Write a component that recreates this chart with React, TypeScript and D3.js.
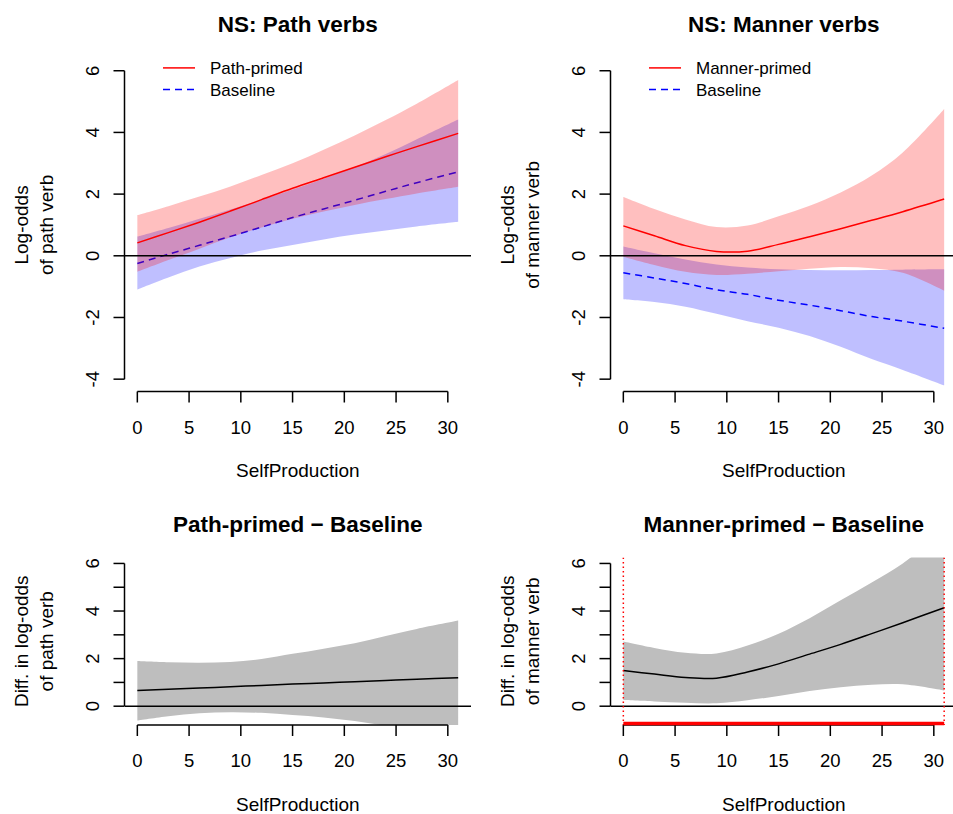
import React from "react";
import * as d3 from "d3";

// ---------- data ----------
const xs = [0, 3, 6, 9, 12, 15, 18, 21, 24, 27, 31];
const xTicks = [0, 5, 10, 15, 20, 25, 30];
const topYTicks = [-4, -2, 0, 2, 4, 6];
const bottomYTicks = [0, 1, 2, 3, 4, 5, 6];
const bottomYLabels = [0, 2, 4, 6];

// NS: Path verbs
const pathPrimedFit = [0.42, 0.75, 1.09, 1.45, 1.82, 2.19, 2.53, 2.87, 3.21, 3.54, 3.97];
const pathPrimedUpper = [1.32, 1.61, 1.92, 2.25, 2.62, 3.0, 3.44, 3.9, 4.4, 4.93, 5.7];
const pathPrimedLower = [-0.52, -0.14, 0.23, 0.6, 0.92, 1.2, 1.44, 1.65, 1.84, 2.02, 2.24];
const pathBaseFit = [-0.25, 0.05, 0.34, 0.63, 0.93, 1.24, 1.52, 1.8, 2.09, 2.37, 2.72];
const pathBaseUpper = [0.62, 0.9, 1.2, 1.5, 1.82, 2.15, 2.5, 2.88, 3.3, 3.78, 4.42];
const pathBaseLower = [-1.09, -0.7, -0.35, -0.07, 0.17, 0.35, 0.53, 0.69, 0.82, 0.95, 1.1];

// NS: Manner verbs
const mannerPrimedFit = [0.97, 0.65, 0.33, 0.14, 0.15, 0.37, 0.62, 0.88, 1.15, 1.43, 1.84];
const mannerPrimedUpper = [1.91, 1.52, 1.18, 0.93, 0.98, 1.28, 1.62, 2.05, 2.6, 3.35, 4.76];
const mannerPrimedLower = [-0.03, -0.3, -0.52, -0.62, -0.58, -0.5, -0.42, -0.36, -0.4, -0.55, -1.13];
const mannerBaseFit = [-0.55, -0.72, -0.9, -1.1, -1.25, -1.44, -1.6, -1.78, -1.97, -2.12, -2.35];
const mannerBaseUpper = [0.3, 0.08, -0.12, -0.28, -0.38, -0.44, -0.46, -0.47, -0.46, -0.45, -0.44];
const mannerBaseLower = [-1.41, -1.5, -1.65, -1.88, -2.12, -2.33, -2.6, -2.95, -3.35, -3.7, -4.2];

// Path-primed − Baseline
const pathDiffFit = [0.66, 0.71, 0.76, 0.82, 0.87, 0.93, 0.98, 1.03, 1.08, 1.13, 1.2];
const pathDiffUpper = [1.9, 1.85, 1.83, 1.86, 1.98, 2.2, 2.42, 2.65, 2.95, 3.25, 3.6];
const pathDiffLower = [-0.6, -0.42, -0.3, -0.25, -0.28, -0.37, -0.47, -0.62, -0.82, -1.0, -1.2];

// Manner-primed − Baseline
const mannerDiffFit = [1.5, 1.35, 1.21, 1.18, 1.44, 1.78, 2.19, 2.6, 3.05, 3.51, 4.14];
const mannerDiffUpper = [2.72, 2.45, 2.25, 2.22, 2.55, 3.05, 3.7, 4.45, 5.2, 6.0, 7.4];
const mannerDiffLower = [0.26, 0.2, 0.14, 0.12, 0.25, 0.43, 0.64, 0.8, 0.9, 0.92, 0.66];
const mannerSigStart = [0];
const mannerSigEnd = [31];

// ---------- layout ----------
const W = 953;
const H = 814;
const FONT = "'Liberation Sans', Arial, Helvetica, sans-serif";
const colLeft = [124.5, 610.5];
const colWidth = 346.5;
const xDomain: [number, number] = [-1.24, 32.24];
const topRow = { top: 58.4, bottom: 391.5, domain: [-4.4, 6.4] as [number, number] };
const botRow = { top: 557.5, bottom: 725, domain: [-0.79, 6.25] as [number, number] };

type Band = { fit: number[]; upper: number[]; lower: number[]; color: string; fill: string; dash?: string };

function Panel(props: {
  id: string;
  col: number;
  row: typeof topRow;
  title: string;
  ylab: [string, string];
  yTicks: number[];
  yLabels: number[];
  bands?: Band[];
  legend?: [string, string];
  diff?: { fit: number[]; upper: number[]; lower: number[] };
  sig?: { start: number[]; end: number[] };
}) {
  const { id, col, row, title, ylab, yTicks, yLabels, bands, legend, diff, sig } = props;
  const L = colLeft[col];
  const R = L + colWidth;
  const x = d3.scaleLinear().domain(xDomain).range([L, R]);
  const y = d3.scaleLinear().domain(row.domain).range([row.bottom, row.top]);
  const cx = (L + R) / 2;
  const cy = (row.top + row.bottom) / 2;
  const idx = xs.map((_, i) => i);
  const curve = d3.curveCatmullRom.alpha(0.5);
  const area = (u: number[], l: number[]) =>
    d3
      .area<number>()
      .x((i) => x(xs[i]))
      .y0((i) => y(l[i]))
      .y1((i) => y(u[i]))
      .curve(curve)(idx) || "";
  const line = (f: number[]) =>
    d3
      .line<number>()
      .x((i) => x(xs[i]))
      .y((i) => y(f[i]))
      .curve(curve)(idx) || "";
  const yMin = d3.min(yTicks)!;
  const yMax = d3.max(yTicks)!;
  const tick = 11;
  return (
    <g>
      <defs>
        <clipPath id={id}>
          <rect x={L} y={row.top} width={colWidth} height={row.bottom - row.top} />
        </clipPath>
      </defs>
      <text x={cx} y={row.top - 33.5} textAnchor="middle" dominantBaseline="central" fontWeight="bold" fontSize={22.5} fontFamily={FONT}>
        {title}
      </text>
      <g clipPath={`url(#${id})`}>
        {bands &&
          bands.map((b, k) => (
            <g key={k}>
              <path d={area(b.upper, b.lower)} fill={b.fill} stroke="none" />
              <path d={line(b.fit)} fill="none" stroke={b.color} strokeWidth={1.5} strokeDasharray={b.dash} />
            </g>
          ))}
        {diff && (
          <g>
            <path d={area(diff.upper, diff.lower)} fill="#bebebe" stroke="none" />
            <path d={line(diff.fit)} fill="none" stroke="#000" strokeWidth={1.5} />
          </g>
        )}
        <line x1={L} x2={R} y1={y(0)} y2={y(0)} stroke="#000" strokeWidth={1.5} />
        {sig &&
          sig.start.map((s, k) => (
            <g key={k}>
              <line x1={x(s)} x2={x(s)} y1={row.top} y2={row.bottom} stroke="#ff0000" strokeWidth={1.5} strokeDasharray="1.5 3" />
              <line x1={x(sig.end[k])} x2={x(sig.end[k])} y1={row.top} y2={row.bottom} stroke="#ff0000" strokeWidth={1.5} strokeDasharray="1.5 3" />
            </g>
          ))}
      </g>
      {/* y axis */}
      <line x1={L} x2={L} y1={y(yMin)} y2={y(yMax)} stroke="#000" strokeWidth={1.5} />
      {yTicks.map((t) => (
        <line key={t} x1={L - tick} x2={L} y1={y(t)} y2={y(t)} stroke="#000" strokeWidth={1.5} />
      ))}
      {yLabels.map((t) => (
        <text
          key={t}
          transform={`translate(${L - 32},${y(t)}) rotate(-90)`}
          textAnchor="middle"
          dominantBaseline="central"
          fontSize={18.5}
          fontFamily={FONT}
        >
          {t}
        </text>
      ))}
      {/* x axis */}
      <line x1={x(0)} x2={x(30)} y1={row.bottom} y2={row.bottom} stroke="#000" strokeWidth={1.5} />
      {xTicks.map((t) => (
        <line key={t} x1={x(t)} x2={x(t)} y1={row.bottom} y2={row.bottom + tick} stroke="#000" strokeWidth={1.5} />
      ))}
      {xTicks.map((t) => (
        <text key={t} x={x(t)} y={row.bottom + 35.5} textAnchor="middle" dominantBaseline="central" fontSize={18.5} fontFamily={FONT}>
          {t}
        </text>
      ))}
      {sig &&
        sig.start.map((s, k) => (
          <line key={k} x1={x(s)} x2={x(sig.end[k])} y1={row.bottom - 1.5} y2={row.bottom - 1.5} stroke="#ff0000" strokeWidth={3.5} />
        ))}
      <text x={cx} y={row.bottom + 79} textAnchor="middle" dominantBaseline="central" fontSize={19} fontFamily={FONT}>
        SelfProduction
      </text>
      {/* y title */}
      <text transform={`translate(${L - 103},${cy}) rotate(-90)`} textAnchor="middle" dominantBaseline="central" fontSize={19} fontFamily={FONT}>
        {ylab[0]}
      </text>
      <text transform={`translate(${L - 78.5},${cy}) rotate(-90)`} textAnchor="middle" dominantBaseline="central" fontSize={19} fontFamily={FONT}>
        {ylab[1]}
      </text>
      {/* legend */}
      {legend && bands && (
        <g>
          {legend.map((lab, k) => (
            <g key={lab}>
              <line
                x1={L + 38.5}
                x2={L + 70.5}
                y1={row.top + 9.5 + k * 21.5}
                y2={row.top + 9.5 + k * 21.5}
                stroke={bands[1 - k].color}
                strokeWidth={1.5}
                strokeDasharray={bands[1 - k].dash}
              />
              <text x={L + 85.5} y={row.top + 10.5 + k * 21.5} dominantBaseline="central" fontSize={17} fontFamily={FONT}>
                {lab}
              </text>
            </g>
          ))}
        </g>
      )}
    </g>
  );
}

export default function App() {
  const red = "#ff0000";
  const blue = "#0000ff";
  const redFill = "rgba(255,0,0,0.25)";
  const blueFill = "rgba(0,0,255,0.25)";
  return (
    <svg
      width={W}
      height={H}
      viewBox={`0 0 ${W} ${H}`}
      style={{ position: "absolute", left: 0, top: 0, background: "#fff" }}
    >
      <rect x={0} y={0} width={W} height={H} fill="#fff" />
      <Panel
        id="c1"
        col={0}
        row={topRow}
        title="NS: Path verbs"
        ylab={["Log-odds", "of path verb"]}
        yTicks={topYTicks}
        yLabels={topYTicks}
        legend={["Path-primed", "Baseline"]}
        bands={[
          { fit: pathBaseFit, upper: pathBaseUpper, lower: pathBaseLower, color: blue, fill: blueFill, dash: "7 5" },
          { fit: pathPrimedFit, upper: pathPrimedUpper, lower: pathPrimedLower, color: red, fill: redFill },
        ]}
      />
      <Panel
        id="c2"
        col={1}
        row={topRow}
        title="NS: Manner verbs"
        ylab={["Log-odds", "of manner verb"]}
        yTicks={topYTicks}
        yLabels={topYTicks}
        legend={["Manner-primed", "Baseline"]}
        bands={[
          { fit: mannerBaseFit, upper: mannerBaseUpper, lower: mannerBaseLower, color: blue, fill: blueFill, dash: "7 5" },
          { fit: mannerPrimedFit, upper: mannerPrimedUpper, lower: mannerPrimedLower, color: red, fill: redFill },
        ]}
      />
      <Panel
        id="c3"
        col={0}
        row={botRow}
        title="Path-primed − Baseline"
        ylab={["Diff. in log-odds", "of path verb"]}
        yTicks={bottomYTicks}
        yLabels={bottomYLabels}
        diff={{ fit: pathDiffFit, upper: pathDiffUpper, lower: pathDiffLower }}
      />
      <Panel
        id="c4"
        col={1}
        row={botRow}
        title="Manner-primed − Baseline"
        ylab={["Diff. in log-odds", "of manner verb"]}
        yTicks={bottomYTicks}
        yLabels={bottomYLabels}
        diff={{ fit: mannerDiffFit, upper: mannerDiffUpper, lower: mannerDiffLower }}
        sig={{ start: mannerSigStart, end: mannerSigEnd }}
      />
    </svg>
  );
}
